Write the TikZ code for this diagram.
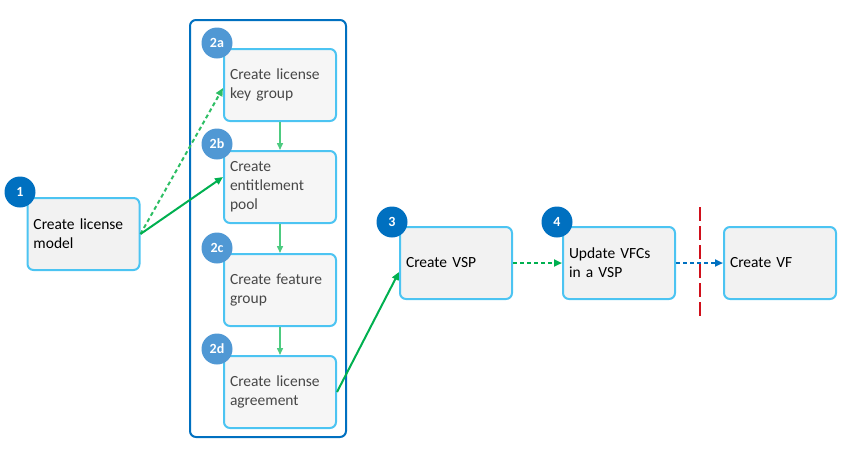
\documentclass[tikz,border=0pt]{standalone}
\usepackage{fontspec}
\setmainfont{Carlito}
\usetikzlibrary{arrows.meta}
\definecolor{frameblue}{HTML}{0070C0}
\definecolor{boxline}{HTML}{4CC4F2}
\definecolor{boxfill}{HTML}{F2F2F2}
\definecolor{subfill}{HTML}{F6F6F6}
\definecolor{badgedark}{HTML}{0070C0}
\definecolor{badgelight}{HTML}{5098D4}
\definecolor{flowgreen}{HTML}{00B050}
\definecolor{palegreen}{HTML}{4DCB80}
\definecolor{dotgreen}{HTML}{2DBE64}
\definecolor{cutred}{HTML}{D0101B}

\begin{document}
\begin{tikzpicture}[x=1pt, y=-1pt, >={Triangle[length=8pt,width=7pt]},
    task/.style={draw=boxline, line width=2pt, fill=boxfill, rounded corners=6pt,
        minimum width=112pt, minimum height=72pt, text width=100pt, inner xsep=6pt,
        align=left, font=\fontsize{15.5}{19}\selectfont},
    subtask/.style={task, fill=subfill, text=black!72},
    badge/.style={circle, minimum size=31pt, inner sep=0pt, text=white,
        font=\fontsize{14}{14}\selectfont\bfseries},
    flow/.style={->, flowgreen, line width=2pt},
    dotflow/.style={flow, dash pattern=on 4pt off 3pt}]
    \useasboundingbox (0,0) rectangle (863,464);

    % license group frame
    \draw[frameblue, line width=2pt, rounded corners=6pt] (190,20) rectangle (346,437);

    % steps
    \node[task] (model) at (83.5,234) {Create license\\model};
    \node[subtask] (keygroup) at (280,85) {Create license\\key group};
    \node[subtask] (pool) at (280,187) {Create\\entitlement\\pool};
    \node[subtask] (feature) at (280,290) {Create feature\\group};
    \node[subtask] (agreement) at (280,392) {Create license\\agreement};
    \node[task] (vsp) at (456,263) {Create VSP};
    \node[task] (vfcs) at (619,263) {Update VFCs\\in a VSP};
    \node[task] (vf) at (780,263) {Create VF};

    % badges
    \node[badge, fill=badgedark] (b1) at (20,192) {1};
    \node[badge, fill=badgelight] (b2a) at (217,43) {2a};
    \node[badge, fill=badgelight] (b2b) at (217,144) {2b};
    \node[badge, fill=badgelight] (b2c) at (217,248) {2c};
    \node[badge, fill=badgelight] (b2d) at (217,349) {2d};
    \node[badge, fill=badgedark] (b3) at (392,222) {3};
    \node[badge, fill=badgedark] (b4) at (557,222) {4};

    % connectors
    \draw[dotflow, dotgreen] (model.east) -- ([yshift=-3pt]keygroup.west);
    \draw[flow] (model.east) -- ([yshift=10pt]pool.west);
    \draw[->, palegreen, line width=1.5pt, >={Triangle[length=7pt,width=6pt]}] (keygroup) -- (pool);
    \draw[->, palegreen, line width=1.5pt, >={Triangle[length=7pt,width=6pt]}] (pool) -- (feature);
    \draw[->, palegreen, line width=1.5pt, >={Triangle[length=7pt,width=6pt]}] (feature) -- (agreement);
    \draw[flow] (agreement.east) -- ([yshift=-9pt]vsp.west);
    \draw[dotflow] (vsp) -- (vfcs);
    \draw[dotflow, frameblue] (vfcs) -- (vf);

    % cut line
    \coordinate (cuttop) at (700,207);
    \coordinate (cutbottom) at (700,316);
    \draw[cutred, line width=2pt, dash pattern=on 14pt off 5pt] (cuttop) -- (cutbottom);
\end{tikzpicture}
\end{document}
